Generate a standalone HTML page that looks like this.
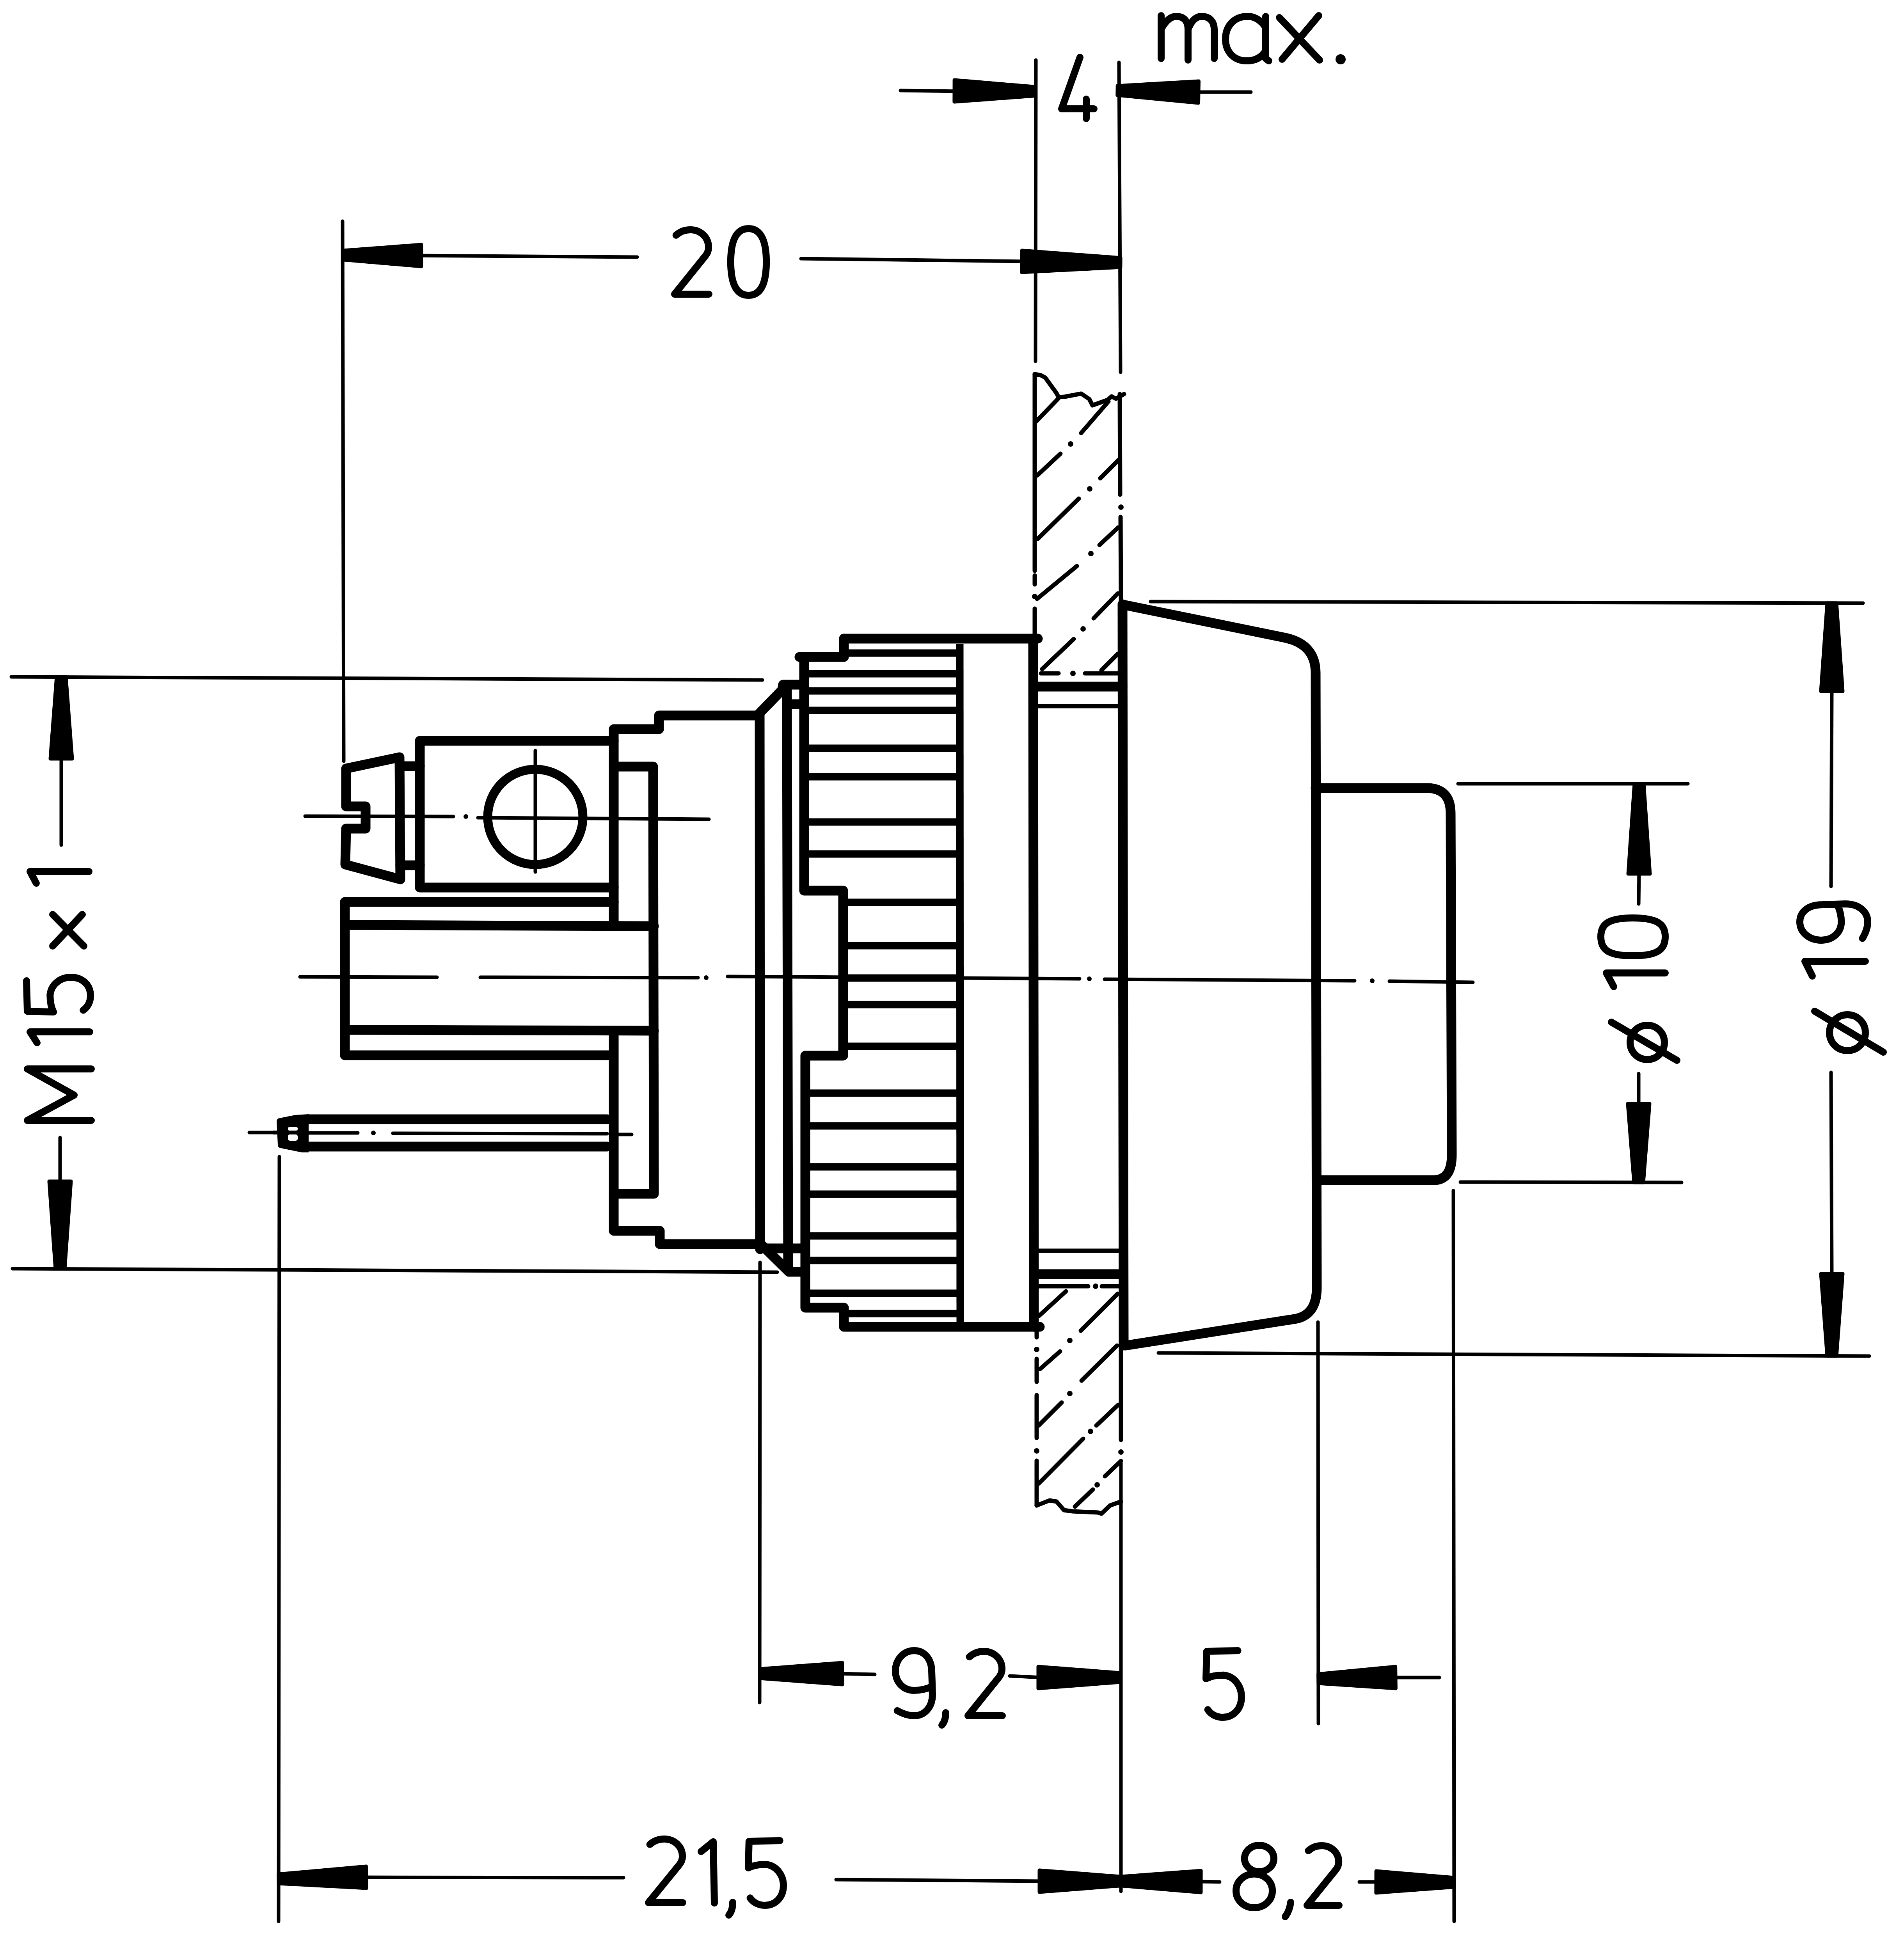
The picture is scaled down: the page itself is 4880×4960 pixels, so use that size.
<!DOCTYPE html><html><head><meta charset="utf-8"><style>html,body{margin:0;padding:0;background:#fff;overflow:hidden}svg{display:block}</style></head><body>
<svg width="4880" height="4960" viewBox="0 0 4880 4960">
<rect width="4880" height="4960" fill="#fff"/>
<g fill="none" stroke="#000" stroke-width="9" stroke-linecap="round">
<path d="M878 567 L881 1951"/>
<path d="M2655 154 L2654 926"/>
<path d="M2868 160 L2872 954"/>
<path d="M29 1735 L1954 1743"/>
<path d="M32 3252 L1992 3261"/>
<path d="M2949 1542 L4775 1546"/>
<path d="M2969 3468 L4791 3476"/>
<path d="M3737 2009 L4326 2009"/>
<path d="M3743 3030 L4310 3031"/>
<path d="M716 2965 L714 4925"/>
<path d="M1948 3236 L1947 4364"/>
<path d="M2873 3750 L2873 4848"/>
<path d="M3378 3389 L3379 4418"/>
<path d="M3725 3052 L3727 4925"/>
<path d="M1060 655 L1633 659"/>
<path d="M2053 663 L2630 670"/>
<path d="M2308 232 L2460 234"/>
<path d="M3060 236 L3206 236"/>
<path d="M157 1940 L157 2166"/>
<path d="M154 2916 L154 3035"/>
<path d="M4695 1760 L4693 2272"/>
<path d="M4693 2749 L4695 3275"/>
<path d="M4201 2230 L4200 2317"/>
<path d="M4200 2752 L4200 2840"/>
<path d="M2150 4290 L2242 4292"/>
<path d="M2588 4296 L2670 4300"/>
<path d="M3565 4300 L3689 4300"/>
<path d="M925 4812 L1598 4813"/>
<path d="M2143 4818 L2675 4822"/>
<path d="M3070 4823 L3126 4824"/>
<path d="M3484 4824 L3540 4824"/>
</g>
<g fill="#000" stroke="#000" stroke-width="9" stroke-linejoin="round">
<path d="M881.1 642 L880.9 666 L1079.9 683 L1080.1 627 Z"/>
<path d="M2871.9 685 L2872.1 661 L2619.3 642 L2618.7 698 Z"/>
<path d="M2647.9 246 L2648.1 222 L2446.1 205 L2445.9 261 Z"/>
<path d="M2864.2 220 L2863.8 244 L3071.5 264 L3072.5 208 Z"/>
<path d="M169 1735 L145 1735 L129 1945 L185 1945 Z"/>
<path d="M142 3252 L166 3252 L182 3028 L126 3028 Z"/>
<path d="M4707 1546 L4683 1546 L4667 1772 L4723 1772 Z"/>
<path d="M4683 3476 L4707 3476 L4723 3265 L4667 3265 Z"/>
<path d="M4213 2009 L4189 2009 L4173 2240 L4229 2240 Z"/>
<path d="M4188 3031 L4212 3031 L4228 2829 L4172 2829 Z"/>
<path d="M1947 4278 L1947 4302 L2159 4318 L2159 4262 Z"/>
<path d="M2869 4312 L2869 4288 L2661 4272 L2661 4328 Z"/>
<path d="M3378.8 4291 L3379.2 4315 L3577.4 4328 L3576.6 4272 Z"/>
<path d="M713.8 4804 L714.2 4828 L939.5 4840 L938.5 4784 Z"/>
<path d="M2869 4834 L2869 4810 L2664 4794 L2664 4850 Z"/>
<path d="M2876.1 4810 L2875.9 4834 L3077.9 4851 L3078.1 4795 Z"/>
<path d="M3726.9 4837 L3727.1 4813 L3527.1 4796 L3526.9 4852 Z"/>
</g>
<g fill="none" stroke="#000" stroke-width="9" stroke-linecap="round">
<path d="M782 2092 L1162 2093"/>
<path d="M1225 2096 L1817 2100"/>
<path d="M1372 1924 L1372 2235"/>
<path d="M769 2504 L1120 2505"/>
<path d="M1231 2505 L1789 2506"/>
<path d="M1865 2503 L2767 2509"/>
<path d="M2831 2510 L3472 2514"/>
<path d="M3561 2515 L3775 2518"/>
<path d="M639 2903 L710 2903"/>
<path d="M791 2904 L917 2904"/>
<path d="M1007 2905 L1556 2906"/>
<path d="M1570 2908 L1619 2908"/>
</g>
<g fill="#000">
<circle cx="1194" cy="2093" r="6"/>
<circle cx="1810" cy="2506" r="6"/>
<circle cx="2792" cy="2509" r="6"/>
<circle cx="3517" cy="2514" r="6"/>
<circle cx="957" cy="2904" r="6"/>
</g>
<g fill="none" stroke="#000" stroke-width="25" stroke-linejoin="round" stroke-linecap="round">
<path d="M887 1970 L1024 1941 L1026 2254 L885 2216 L887 2124 L937 2124 L937 2067 L887 2067 Z"/>
<path d="M1026 1964 L1076 1964"/>
<path d="M1026 2218 L1076 2218"/>
<path d="M1573 1899 L1076 1899 L1076 2275 L1573 2275"/>
<path d="M1573 2312 L884 2312 L884 2705 L1566 2705"/>
<path d="M884 2371 L1676 2374"/>
<path d="M884 2640 L1676 2642"/>
<path d="M791 2869 L1556 2869"/>
<path d="M791 2939 L1556 2939"/>
<path d="M1573 2362 L1573 1869 L1689 1869 L1689 1834 L1941 1834 L2005 1768 L2007 1755 L2050 1755"/>
<path d="M1573 2656 L1573 3155 L1691 3155 L1691 3189 L1950 3189 L2022 3260 L2053 3260"/>
<path d="M1573 1965 L1674 1965 L1676 3060 L1573 3060"/>
<path d="M1947 1830 L1948 3202"/>
<path d="M2017 1770 L2020 3255"/>
<path d="M2017 1805 L2061 1805"/>
<path d="M1950 3200 L2064 3200"/>
<path d="M2163 1637 L2660 1637"/>
<path d="M2163 1637 L2163 1684 L2049 1684 L2061 1684 L2061 2283 L2161 2283 L2161 2706 L2064 2706 L2064 3352 L2163 3352 L2163 3401 L2665 3401"/>
<path d="M2648 1637 L2650 3401"/>
<path d="M2877 1549 L2880 3449"/>
<path d="M2879,1550 L3290,1634 Q3372,1650 3372,1725 L3375,3300 Q3375,3372 3318,3381 L2885,3449"/>
<path d="M3372,2020 L3660,2020 Q3718,2022 3718,2085 L3721,2960 Q3721,3025 3675,3025 L3375,3025"/>
<path d="M2654 1760 L2877 1760"/>
<path d="M2654 3266 L2877 3266"/>
</g>
<path fill="#000" d="M709,2875 Q709,2867 717,2866 L757,2858 L791,2856 L791,2954 L774,2954 L720,2943 Q712,2942 712,2934 Z"/>
<rect x="738" y="2889" width="25" height="9" rx="4" fill="#fff"/>
<rect x="738" y="2908" width="25" height="16" rx="5" fill="#fff"/>
<path d="M700,2903 L791,2903" stroke="#000" stroke-width="10"/>
<g fill="none" stroke="#000" stroke-width="19" stroke-linecap="butt">
<path d="M2460 1650 L2461 3390"/>
<path d="M2061 1727 L2460 1727"/>
<path d="M2061 1771 L2460 1771"/>
<path d="M2061 1821 L2460 1821"/>
<path d="M2061 1918 L2460 1918"/>
<path d="M2061 1991 L2460 1991"/>
<path d="M2061 2107 L2460 2107"/>
<path d="M2061 2189 L2460 2189"/>
<path d="M2061 2802 L2460 2802"/>
<path d="M2061 2886 L2460 2886"/>
<path d="M2061 2991 L2460 2991"/>
<path d="M2061 3061 L2460 3061"/>
<path d="M2061 3168 L2460 3168"/>
<path d="M2061 3231 L2460 3231"/>
<path d="M2061 3315 L2460 3315"/>
<path d="M2161 2424 L2460 2424"/>
<path d="M2161 2507 L2460 2507"/>
<path d="M2161 2575 L2460 2575"/>
<path d="M2161 2682 L2460 2682"/>
<path d="M2163 1674 L2460 1674"/>
<path d="M2163 2313 L2460 2313"/>
<path d="M2163 3367 L2460 3367"/>
</g>
<circle cx="1372" cy="2094" r="122" fill="none" stroke="#000" stroke-width="23"/>
<g fill="none" stroke="#000" stroke-width="11" stroke-linecap="round" stroke-linejoin="round">
<path d="M2652 959 L2668 962 L2679 968 L2708 1008 L2713 1018 L2729 1017 L2771 1009 L2792 1023 L2800 1039 L2839 1025 L2849 1016 L2860 1022 L2881 1010"/>
<path d="M2657 3859 L2690 3846 L2708 3849 L2727 3871 L2749 3874 L2814 3877 L2823 3880 L2845 3859 L2873 3849"/>
<path d="M2652 959 L2652 1463"/>
<path d="M2652 1475 L2652 1498"/>
<path d="M2652 1560 L2652 1640"/>
<path d="M2657 3400 L2657 3428"/>
<path d="M2657 3483 L2657 3542"/>
<path d="M2657 3576 L2657 3686"/>
<path d="M2657 3744 L2657 3859"/>
<path d="M2870 1010 L2871 1268"/>
<path d="M2872 1325 L2873 1548"/>
<path d="M2873 3440 L2873 3691"/>
<path d="M2660 1810 L2870 1810"/>
<path d="M2663 3206 L2868 3206"/>
<path d="M2668 1726 L2713 1726"/>
<path d="M2781 1726 L2865 1726"/>
<path d="M2663 3297 L2789 3297"/>
<path d="M2824 3297 L2868 3297"/>
<path d="M2655 1081 L2713 1021"/>
<path d="M2658 1219 L2718 1163"/>
<path d="M2771 1110 L2841 1029"/>
<path d="M2660 1381 L2765 1278"/>
<path d="M2820 1226 L2868 1178"/>
<path d="M2658 1535 L2760 1451"/>
<path d="M2818 1397 L2866 1352"/>
<path d="M2671 1715 L2752 1638"/>
<path d="M2803 1585 L2865 1521"/>
<path d="M2823 1718 L2865 1676"/>
<path d="M2663 3373 L2732 3310"/>
<path d="M2666 3509 L2717 3464"/>
<path d="M2770 3411 L2865 3316"/>
<path d="M2662 3654 L2721 3595"/>
<path d="M2772 3539 L2863 3449"/>
<path d="M2662 3803 L2776 3688"/>
<path d="M2810 3654 L2866 3601"/>
<path d="M2755 3862 L2801 3818"/>
<path d="M2832 3784 L2873 3745"/>
</g>
<g fill="#000">
<circle cx="2744" cy="1138" r="7"/>
<circle cx="2793" cy="1253" r="7"/>
<circle cx="2796" cy="1419" r="7"/>
<circle cx="2776" cy="1612" r="7"/>
<circle cx="2750" cy="1726" r="7"/>
<circle cx="2808" cy="3297" r="7"/>
<circle cx="2742" cy="3436" r="7"/>
<circle cx="2742" cy="3572" r="7"/>
<circle cx="2795" cy="3669" r="7"/>
<circle cx="2812" cy="3806" r="7"/>
<circle cx="2873" cy="1300" r="7"/>
<circle cx="2652" cy="1529" r="7"/>
<circle cx="2657" cy="3459" r="7"/>
<circle cx="2657" cy="3719" r="7"/>
<circle cx="2873" cy="3722" r="7"/>
</g>
<g fill="none" stroke="#000" stroke-width="18" stroke-linecap="round" stroke-linejoin="round">
<path d="M2976,40 L2976,150 M2976,75 C2990,48 3005,42 3015,42 C3035,42 3045,55 3045,75 L3045,154 M3045,75 C3055,50 3068,42 3080,42 C3100,42 3112,55 3112,75 L3112,150"/>
<path d="M3244,42 L3244,150 L3252,156 M3244,70 C3230,50 3215,42 3198,42 C3160,42 3141,70 3141,100 C3141,135 3165,156 3195,156 C3220,156 3235,145 3244,130"/>
<path d="M3279 45 L3382 154"/>
<path d="M3380 40 L3286 152"/>
</g>
<circle cx="3436" cy="152" r="13" fill="#000"/>
<g fill="none" stroke="#000" stroke-width="18" stroke-linecap="round" stroke-linejoin="round">
<path d="M2768 147 L2721 279 L2804 279"/>
<path d="M2784 254 L2784 304"/>
<path d="M 1732.6,603 C 1742.5,594 1754.1,589 1769.4,589 C 1796.3,589 1816.1,609 1816.1,634 C 1816.1,645 1811.6,652 1806.2,658 L 1729,754 L 1817,754"/>
<path d="M 1918.5,586 C 1884.5,586 1872.9,622.3 1872.9,671 C 1872.9,720.7 1884.5,757 1918.5,757 C 1952.5,757 1964.1,720.7 1964.1,671 C 1964.1,622.3 1952.5,586 1918.5,586 Z"/>
<path d="M 2388.1,4323 C 2375.6,4329 2360.3,4333 2343,4333 C 2316.1,4333 2295,4313 2295,4283 C 2295,4256 2314.2,4231 2343,4231 C 2369.8,4231 2388.1,4253 2388.1,4286 L 2390,4343 C 2390,4376 2369.8,4398 2343,4398 C 2325.7,4398 2310.4,4391 2299.8,4385"/>
<path d="M2424,4390 C2424,4405 2420,4415 2414,4422"/>
<path d="M 2484.6,4247 C 2494.5,4238 2506.1,4233 2521.4,4233 C 2548.3,4233 2568.1,4253 2568.1,4278 C 2568.1,4289 2563.6,4296 2558.2,4302 L 2481,4398 L 2569,4398"/>
<path d="M 3172.7,4231 L 3092.9,4233.1 L 3091,4303.1 C 3104.9,4295.9 3120.7,4293.8 3135.6,4293.8 C 3165.3,4296.9 3182,4323.7 3182,4349.5 C 3182,4380.4 3161.6,4402 3133.7,4402 C 3117,4402 3103.1,4393.8 3095.6,4382.4"/>
<path d="M 1665.6,4727.8 C 1675.5,4718.9 1687.1,4714 1702.4,4714 C 1729.3,4714 1749.1,4733.8 1749.1,4758.5 C 1749.1,4769.3 1744.6,4776.2 1739.2,4782.2 L 1662,4877 L 1750,4877"/>
<path d="M1797 4746 L1828 4721 L1831 4878"/>
<path d="M1878,4876 C1878,4892 1874,4902 1868,4909"/>
<path d="M 1998.8,4718 L 1919.8,4720 L 1918,4788 C 1931.8,4781 1947.4,4779 1962.1,4779 C 1991.5,4782 2008,4808 2008,4833 C 2008,4863 1987.8,4884 1960.2,4884 C 1943.7,4884 1929.9,4876 1922.6,4865"/>
<path d="M 3227.4,4730 C 3248.2,4730 3265,4745.1 3265,4763.9 C 3265,4782.7 3248.2,4797.8 3227.4,4797.8 C 3206.6,4797.8 3189.8,4782.7 3189.8,4763.9 C 3189.8,4745.1 3206.6,4730 3227.4,4730 Z M 3214.5,4803.4 C 3240.3,4803.4 3261.1,4822.2 3261.1,4846.7 C 3261.1,4871.2 3240.3,4890 3214.5,4890 C 3188.8,4890 3168,4871.2 3168,4846.7 C 3168,4822.2 3188.8,4803.4 3214.5,4803.4 Z"/>
<path d="M3308,4876 C3306,4893 3300,4905 3294,4913"/>
<path d="M 3353.3,4744 C 3362.6,4735.6 3373.4,4731 3387.7,4731 C 3412.8,4731 3431.2,4749.5 3431.2,4772.7 C 3431.2,4782.9 3427,4789.4 3422,4795 L 3350,4884 L 3432,4884"/>
<path d="M93 2264 L77 2234 L228 2234"/>
<path d="M135 2344 L215 2425"/>
<path d="M211 2344 L135 2425"/>
<path d="M 68,2514.1 L 70,2592.2 L 137.2,2594 C 130.2,2580.4 128.3,2564.9 128.3,2550.4 C 131.2,2521.3 156.9,2505 181.6,2505 C 211.3,2505 232,2525 232,2552.2 C 232,2568.6 224.1,2582.2 213.2,2589.5"/>
<path d="M234 2740 L70 2740 L190 2807 L70 2872 L234 2872"/>
<path d="M95 2673 L77 2645 L230 2645"/>
<path d="M4185,2353 C4120,2353 4103,2370 4103,2401 C4103,2433 4120,2450 4185,2450 C4250,2450 4268,2433 4268,2401 C4268,2370 4250,2353 4185,2353 Z"/>
<path d="M4136 2529 L4117 2494 L4268 2494"/>
<circle cx="4222" cy="2672" r="44"/>
<path d="M4130 2620 L4298 2718"/>
<path d="M 4708.9,2318.9 C 4715.1,2331.1 4719.3,2346.1 4719.3,2363 C 4719.3,2389.3 4698.4,2410 4667.2,2410 C 4639,2410 4613,2391.2 4613,2363 C 4613,2336.7 4635.9,2318.9 4670.3,2318.9 L 4729.7,2317 C 4764.1,2317 4787,2336.7 4787,2363 C 4787,2379.9 4779.7,2395 4773.5,2405.3"/>
<path d="M4645 2502 L4626 2464 L4781 2464"/>
<circle cx="4735" cy="2647" r="46"/>
<path d="M4651 2592 L4827 2697"/>
</g>
</svg></body></html>
